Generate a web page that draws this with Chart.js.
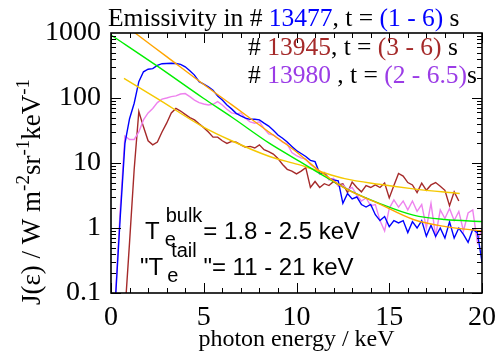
<!DOCTYPE html>
<html>
<head>
<meta charset="utf-8">
<script src="https://cdn.jsdelivr.net/npm/chart.js@4.4.1/dist/chart.umd.min.js"></script>
<style>
  html, body { margin: 0; padding: 0; background: #fff; }
  #wrap { width: 504px; height: 358px; }
</style>
</head>
<body>
<div id="wrap"><canvas id="emissivityChart" width="504" height="358"></canvas></div>
<script>
// photon energy grid (keV) shared by the three measured spectra
const energy = [
  0, 0.25, 0.5, 0.75, 1, 1.25, 1.5, 1.75, 2, 2.25, 2.5, 2.75, 3, 3.25, 3.5, 3.75,
  4, 4.25, 4.5, 4.75, 5, 5.25, 5.5, 5.75, 6, 6.25, 6.5, 6.75, 7, 7.25, 7.5, 7.75,
  8, 8.25, 8.5, 8.75, 9, 9.25, 9.5, 9.75, 10, 10.25, 10.5, 10.75, 11, 11.25, 11.5, 11.75,
  12, 12.25, 12.5, 12.75, 13, 13.25, 13.5, 13.75, 14, 14.25, 14.5, 14.75, 15, 15.25, 15.5, 15.75,
  16, 16.25, 16.5, 16.75, 17, 17.25, 17.5, 17.75, 18, 18.25, 18.5, 18.75, 19, 19.25, 19.5, 19.75, 20
];

// measured emissivity, W m^-2 sr^-1 keV^-1
const shot13477 = [
  null, 0.09, 1.5, 20, 48, 83, 178, 253, 277, 283, 318, 337, 340, 342, 340, 330,
  302, 263, 225, 178, 163, 148, 132, 107, 93, 78, 68, 58, 53, 49, 47, 47,
  46, 41, 37, 32, 27, 24, 21, 18, 15.5, 14, 12.6, 11, 10.5, 6.9, 7, 5.8,
  5.5, 5.3, 2.4, 3.4, 2.8, 3.0, 2.3, 2.1, 2.3, 1.6, 1.3, 1.5, 1.05, 1.3, 1.2, 1.3,
  0.85, 1.25, 1.0, 1.3, 0.75, 1.1, 0.74, 1.0, 0.7, 1.25, 0.7, 1.0, 0.8, 0.6, 0.95, 0.85, 0.3
];
const shot13945 = [
  null, null, null, 0.05, 0.6, 8, 62, 36, 22, 19, 21, 30, 41, 59, 69, 63,
  56, 50, 46, 40, 35, 30, 25, 25, 22, 20, 21.5, 21, 19, 17.5, 18, 17,
  19, 16, 15, 13.7, 11.7, 9.5, 8.0, 7.5, 6.8, 7.5, 8.5, 4.2, 5.2, 4.2, 4.8, 4.5,
  5.2, 4.6, 4.8, 3.5, 5.1, 4.2, 3.6, 4.5, 4.2, 4.6, 4.2, 4.9, 2.9, 4.5, 6.9, 6.3,
  5.0, 4.6, 3.5, 4.9, 3.8, 4.6, 5.0, 4.4, 3.8, 2.2, 3.6, 2.6, null, null, null, null, null
];
const shot13980 = [
  null, 0.1, 2.0, 26, 23, 23, 30, 46, 59, 69, 85, 96, 100, 105, 108, 115,
  117, 105, 93, 85, 81, 78, 80, 88, 78, 67, 59, 57, 59, 49, 43, 41,
  43, 34, 28, 27, 24, 21, 19.5, 14.5, 13, 12, 11.5, 9.5, 8.5, 6.8, 7.2, 5.5,
  5.8, 4.4, 4.6, 3.9, 4.2, 3.2, 2.6, 2.9, 2.2, 2.3, 1.3, 0.9, 2.0, 2.7, 2.1, 2.6,
  1.9, 2.6, 1.8, 2.3, 1.0, 2.4, 0.75, 1.9, 1.4, 2.0, 1.3, 1.8, 0.9, 1.7, 1.9, 0.6, 1.0
];

// bulk + tail fits
const fitOrangeE = [1.0, 1.3, 3.0, 4.8, 6.5, 8.55, 10.0, 11.15, 12.6, 14.46, 16.3, 18.05, 20];
const fitOrange  = [1160, 1000, 433, 178, 79, 29.5, 14.8, 7.9, 4.1, 2.35, 1.35, 1.05, 0.9];
const fitGreenE  = [0, 2.5, 4.96, 6.5, 8.55, 10.07, 11.15, 12.85, 14.46, 16.3, 18.0, 20];
const fitGreen   = [933, 309, 100, 51, 20, 11, 7.2, 3.8, 2.4, 1.58, 1.35, 1.26];
const fitGoldE   = [0.7, 2.5, 4.96, 6.5, 8.55, 10.07, 11.15, 12.6, 14.46, 16.3, 18.8];
const fitGold    = [200, 98, 36, 22, 12.6, 9.5, 7.6, 5.75, 4.7, 4.0, 3.4];

const xTickValues = [0, 5, 10, 15, 20];
const yTickValues = [0.1, 1, 10, 100, 1000];

const BLUE = '#0000ff', BROWN = '#a52a2a', VIOLET = '#ee82ee', PURPLE = '#9b3ce6';

const pairs = (xs, ys) => xs.map((x, i) => ({ x: x, y: ys[i] }));

function drawRuns(ctx, x, y, runs) {
    runs.forEach(r => {
        ctx.font = r.font;
        ctx.fillStyle = r.color || '#000';
        ctx.fillText(r.text, x, y + (r.dy || 0));
        x += ctx.measureText(r.text).width;
    });
    return x;
}

// frame with inward ticks on all four sides (IDL style)
const frameTicks = {
    id: 'frameTicks',
    afterDatasetsDraw(chart) {
        const { ctx, chartArea: a, scales: { x, y } } = chart;
        ctx.save();
        ctx.strokeStyle = '#000';
        ctx.lineWidth = 1;
        ctx.beginPath();
        for (let v = 0; v <= 20; v++) {
            const px = Math.round(x.getPixelForValue(v)) + 0.5;
            const len = v % 5 === 0 ? 10 : 5;
            ctx.moveTo(px, a.bottom); ctx.lineTo(px, a.bottom - len);
            ctx.moveTo(px, a.top); ctx.lineTo(px, a.top + len);
        }
        yTickValues.slice(0, -1).forEach(dec => {
            for (let m = 1; m <= 9; m++) {
                const py = Math.round(y.getPixelForValue(m * dec)) + 0.5;
                const len = m === 1 ? 10 : 5;
                ctx.moveTo(a.left, py); ctx.lineTo(a.left + len, py);
                ctx.moveTo(a.right, py); ctx.lineTo(a.right - len, py);
            }
        });
        ctx.stroke();
        ctx.lineWidth = 1.6;
        ctx.strokeRect(a.left, a.top, a.right - a.left, a.bottom - a.top);
        ctx.restore();
    }
};

// header, y title with superscripts, temperature annotation
const textLayer = {
    id: 'textLayer',
    afterDraw(chart) {
        const ctx = chart.ctx;
        const serif = '25.5px "Liberation Serif"';
        ctx.save();
        ctx.textBaseline = 'alphabetic';
        ctx.textAlign = 'left';

        drawRuns(ctx, 108, 26, [
            { text: 'Emissivity in # ', font: serif },
            { text: '13477', font: serif, color: BLUE },
            { text: ', t = ', font: serif },
            { text: '(1 - 6)', font: serif, color: BLUE },
            { text: ' s', font: serif }
        ]);
        drawRuns(ctx, 248, 55, [
            { text: '# ', font: serif },
            { text: '13945', font: serif, color: BROWN },
            { text: ', t = ', font: serif },
            { text: '(3 - 6)', font: serif, color: BROWN },
            { text: ' s', font: serif }
        ]);
        drawRuns(ctx, 248, 83, [
            { text: '# ', font: serif },
            { text: '13980', font: serif, color: PURPLE },
            { text: ' , t = ', font: serif },
            { text: '(2 - 6.5)', font: serif, color: PURPLE },
            { text: 's', font: serif }
        ]);

        // y axis title, rotated
        const yMain = '27px "Liberation Serif"';
        const ySup = '19px "Liberation Serif"';
        const yRuns = [
            { text: 'J(\u03b5) / W m', font: yMain },
            { text: '-2', font: ySup, dy: -11 },
            { text: 'sr', font: yMain },
            { text: '-1', font: ySup, dy: -11 },
            { text: 'keV', font: yMain },
            { text: '-1', font: ySup, dy: -11 }
        ];
        let total = 0;
        yRuns.forEach(r => { ctx.font = r.font; total += ctx.measureText(r.text).width; });
        ctx.save();
        ctx.translate(40, 192 + total / 2);
        ctx.rotate(-Math.PI / 2);
        drawRuns(ctx, 0, 0, yRuns);
        ctx.restore();

        // T_e annotation
        const big = '24px "Liberation Sans"';
        const small = '20px "Liberation Sans"';
        ctx.fillStyle = '#000';
        ctx.font = big;
        let x = 145 + ctx.measureText('T').width;
        ctx.fillText('T', 145, 239);
        ctx.font = small;
        ctx.fillText('e', x + 5, 246);
        ctx.fillText('bulk', x + 6, 222);
        x += 6 + ctx.measureText('bulk').width + 1;
        ctx.font = big;
        ctx.fillText('= 1.8 - 2.5 keV', x, 239);

        ctx.font = big;
        ctx.fillText('"T', 140, 275);
        x = 140 + ctx.measureText('"T').width;
        ctx.font = small;
        ctx.fillText('e', x + 4, 282);
        ctx.fillText('tail', x + 8, 257);
        x += 8 + ctx.measureText('tail').width;
        ctx.font = big;
        ctx.fillText(' "= 11 - 21 keV', x, 275);
        ctx.restore();
    }
};

const line = (label, pts, color) => ({
    label: label,
    data: pts,
    borderColor: color,
    borderWidth: 1.4,
    pointRadius: 0,
    tension: 0,
    fill: false
});
const fit = (label, pts, color) => Object.assign(line(label, pts, color), {
    cubicInterpolationMode: 'monotone'
});

new Chart(document.getElementById('emissivityChart'), {
    type: 'line',
    data: {
        datasets: [
            fit('fit 13477', pairs(fitOrangeE, fitOrange), '#ffa500'),
            fit('fit 13980', pairs(fitGreenE, fitGreen), '#00ee00'),
            fit('fit 13945', pairs(fitGoldE, fitGold), '#f5c800'),
            line('13477', pairs(energy, shot13477), BLUE),
            line('13980', pairs(energy, shot13980), VIOLET),
            line('13945', pairs(energy, shot13945), BROWN)
        ]
    },
    options: {
        responsive: false,
        animation: false,
        devicePixelRatio: 1,
        layout: { padding: { top: 33, right: 21, bottom: 0, left: 0 } },
        plugins: { legend: { display: false }, tooltip: { enabled: false } },
        scales: {
            x: {
                type: 'linear',
                min: 0,
                max: 20,
                afterBuildTicks: s => { s.ticks = xTickValues.map(v => ({ value: v })); },
                afterFit: s => { s.height = 65; },
                grid: { display: false, drawTicks: false },
                border: { display: false },
                ticks: {
                    color: '#000',
                    padding: 8,
                    maxRotation: 0,
                    font: { family: 'Liberation Serif', size: 28 }
                },
                title: {
                    display: true,
                    text: 'photon energy / keV',
                    color: '#000',
                    padding: { top: 0, bottom: 4 },
                    font: { family: 'Liberation Serif', size: 24 }
                }
            },
            y: {
                type: 'logarithmic',
                min: 0.1,
                max: 1000,
                afterBuildTicks: s => { s.ticks = yTickValues.map(v => ({ value: v })); },
                afterFit: s => { s.width = 111; },
                grid: { display: false, drawTicks: false },
                border: { display: false },
                ticks: {
                    color: '#000',
                    padding: 10,
                    autoSkip: false,
                    callback: v => String(v),
                    font: { family: 'Liberation Serif', size: 28 }
                }
            }
        }
    },
    plugins: [frameTicks, textLayer]
});
</script>
</body>
</html>
